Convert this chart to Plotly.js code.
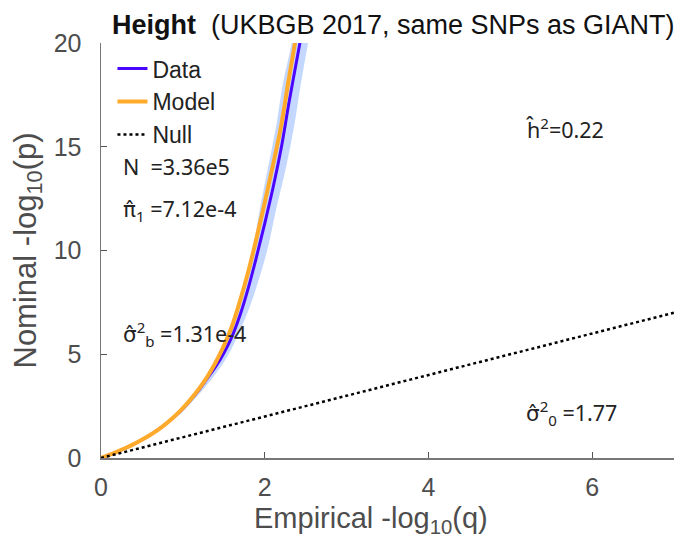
<!DOCTYPE html>
<html>
<head>
<meta charset="utf-8">
<script src="https://cdn.plot.ly/plotly-3.0.1.min.js"></script>
<style>html,body{margin:0;padding:0;background:#fff}#chart{width:678px;height:537px}</style>
</head>
<body>
<div id="chart"></div>
<script>
// Model curve (orange)
var modelX = [0, 0.1, 0.2, 0.3, 0.4, 0.5, 0.6, 0.7, 0.8, 0.9, 1.0, 1.1, 1.2, 1.3, 1.4, 1.5, 1.6, 1.7, 1.8, 1.9, 2.0, 2.1, 2.2, 2.3, 2.37, 2.45];
var modelY = [0, 0.15, 0.31, 0.48, 0.67, 0.88, 1.11, 1.37, 1.67, 2.01, 2.4, 2.85, 3.35, 3.92, 4.6, 5.4, 6.35, 7.6, 9.0, 10.6, 12.3, 14.1, 16.0, 18.4, 20.0, 22.0];
// Data curve (blue)
var dataX = [0, 0.1, 0.2, 0.3, 0.4, 0.5, 0.6, 0.7, 0.8, 0.9, 1.0, 1.1, 1.2, 1.3, 1.4, 1.5, 1.6, 1.7, 1.8, 1.9, 2.0, 2.1, 2.2, 2.3, 2.43, 2.5];
var dataY = [0, 0.15, 0.31, 0.48, 0.67, 0.88, 1.11, 1.37, 1.67, 2.0, 2.38, 2.82, 3.3, 3.85, 4.4, 5.05, 5.85, 6.9, 8.2, 9.7, 11.3, 13.0, 14.9, 17.2, 20.0, 21.5];
// Confidence band around data
var bandY  = [0, 1, 2, 3, 4, 5, 6, 7, 8, 10, 12, 14, 16, 18, 20, 22];
var bandLo = [0, 0.54, 0.89, 1.12, 1.31, 1.46, 1.56, 1.65, 1.72, 1.85, 1.94, 2.04, 2.14, 2.22, 2.33, 2.42];
var bandHi = [0, 0.56, 0.93, 1.18, 1.39, 1.56, 1.68, 1.79, 1.88, 2.03, 2.14, 2.26, 2.36, 2.44, 2.53, 2.62];
// Null line
var nullX = [0, 7];
var nullY = [0, 7];

var xTicks = [0, 2, 4, 6];
var yTicks = [0, 5, 10, 15, 20];

var polyX = bandLo.concat(bandHi.slice().reverse());
var polyY = bandY.concat(bandY.slice().reverse());

var traces = [
  {x: polyX, y: polyY, mode: 'lines', fill: 'toself', fillcolor: 'rgba(165,195,255,0.65)',
   line: {width: 0, shape: 'spline'}, hoverinfo: 'skip', showlegend: false},
  {x: dataX, y: dataY, mode: 'lines', name: 'Data', legendrank: 1, line: {color: '#4a06ff', width: 3, shape: 'spline'}},
  {x: modelX, y: modelY, mode: 'lines', name: 'Model', legendrank: 2, line: {color: '#ffaa2a', width: 4, shape: 'spline'}},
  {x: nullX, y: nullY, mode: 'lines', name: 'Null', legendrank: 3, line: {color: '#000', width: 2.5, dash: 'dot'}}
];

var annFont = {family: 'Noto Sans, sans-serif', size: 21.5, color: '#222'};
function hat(c) { return '<span style="font-family:DejaVu Sans">' + c + '</span>'; }
var layout = {
  width: 678, height: 537,
  margin: {l: 101, r: 4, t: 43, b: 79},
  paper_bgcolor: '#fff', plot_bgcolor: '#fff',
  font: {family: 'Liberation Sans, Arial, sans-serif', color: '#4d4d4d'},
  title: {text: '<b>Height</b>  (UKBGB 2017, same SNPs as GIANT)', x: 0.58, xanchor: 'center', y: 0.955, yanchor: 'middle',
          font: {size: 27, color: '#111', family: 'Liberation Sans, Arial, sans-serif'}},
  xaxis: {range: [0, 7], tickvals: xTicks, ticks: 'inside', ticklen: 6, tickcolor: '#555',
          showline: true, linecolor: '#777', linewidth: 1.5, showgrid: false, zeroline: false,
          tickfont: {size: 25, color: '#4d4d4d'}, ticklabelstandoff: 6},
  yaxis: {range: [0, 20], tickvals: yTicks, ticks: 'inside', ticklen: 6, tickcolor: '#555',
          showline: true, linecolor: '#777', linewidth: 1.5, showgrid: false, zeroline: false,
          tickfont: {size: 25, color: '#4d4d4d'}, ticklabelstandoff: 13,
          title: {text: 'Nominal -log<sub>10</sub>(p)', font: {size: 31, color: '#4d4d4d'}, standoff: 8}},
  legend: {x: 0.02, y: 0.99, xanchor: 'left', yanchor: 'top', bgcolor: 'rgba(0,0,0,0)',
           font: {size: 23, color: '#222', family: 'Liberation Sans, Arial, sans-serif'},
           itemwidth: 30, tracegroupgap: 0, traceorder: 'normal'},
  showlegend: true,
  annotations: [
    {x: 0.471, y: -0.149, xref: 'paper', yref: 'paper', xanchor: 'center', yanchor: 'middle',
     text: 'Empirical -log<sub>10</sub>(q)', showarrow: false, font: {size: 29, color: '#4d4d4d', family: 'Liberation Sans, Arial, sans-serif'}},
    {x: 0.24, y: 14.07, xref: 'x', yref: 'y', xanchor: 'left', text: 'N  =3.36e5', showarrow: false, font: annFont},
    {x: 0.24, y: 11.95, xref: 'x', yref: 'y', xanchor: 'left', text: hat('π̂') + '<sub>1</sub> =7.12e-4', showarrow: false, font: annFont},
    {x: 0.24, y: 6.0, xref: 'x', yref: 'y', xanchor: 'left', text: hat('σ̂') + '<sup>2</sup><sub>b</sub> =1.31e-4', showarrow: false, font: annFont},
    {x: 5.17, y: 15.9, xref: 'x', yref: 'y', xanchor: 'left', text: 'ĥ<sup>2</sup>=0.22', showarrow: false, font: annFont},
    {x: 5.17, y: 2.17, xref: 'x', yref: 'y', xanchor: 'left', text: hat('σ̂') + '<sup>2</sup><sub>0</sub> =1.77', showarrow: false, font: annFont}
  ]
};
Plotly.newPlot('chart', traces, layout, {displayModeBar: false, staticPlot: true});
</script>
</body>
</html>
